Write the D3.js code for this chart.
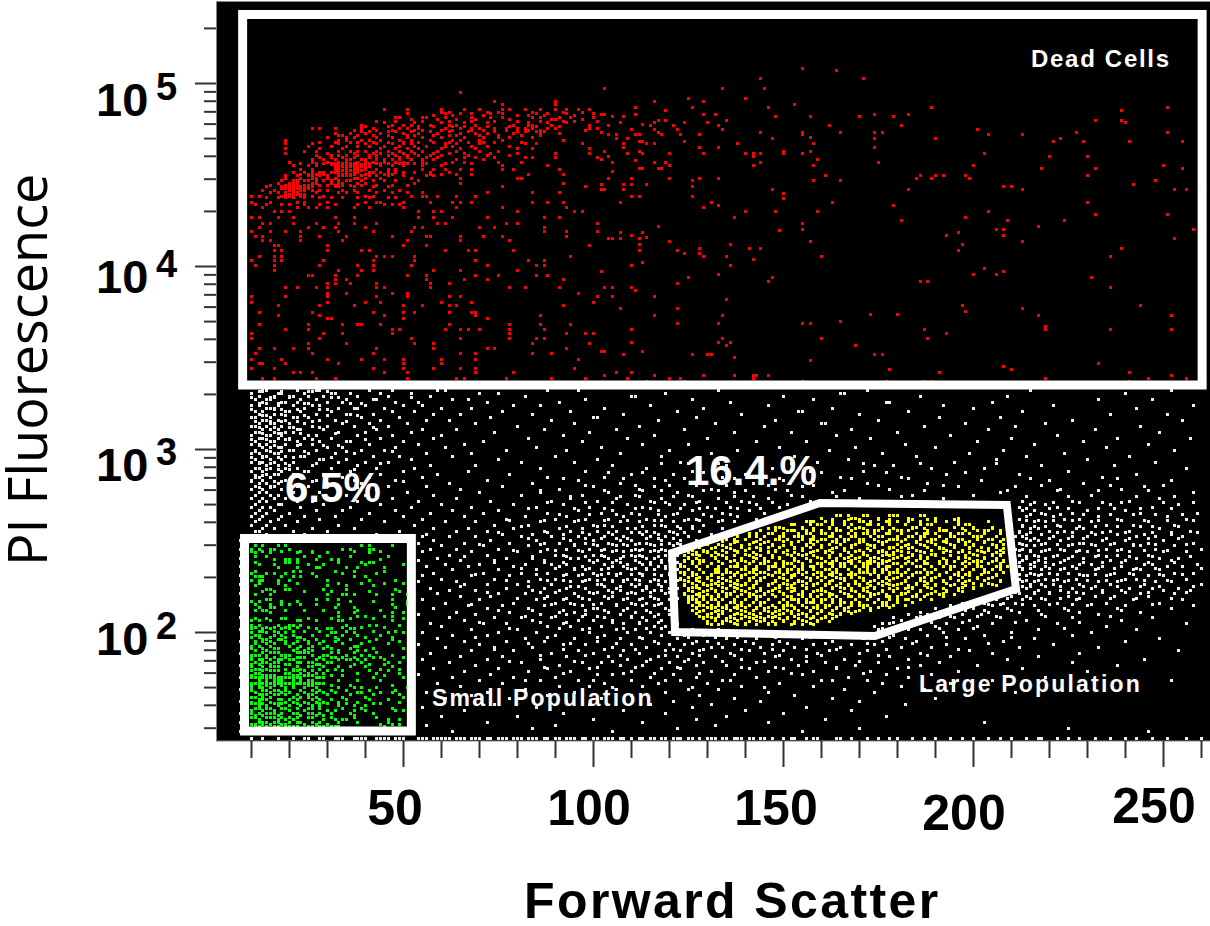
<!DOCTYPE html>
<html><head><meta charset="utf-8">
<style>html,body{margin:0;padding:0;background:#fff}svg{display:block}text{font-family:"Liberation Sans",Arial,sans-serif}</style>
<script src="https://cdn.jsdelivr.net/npm/d3@7"></script>
</head><body><svg id="c" width="1210" height="926"></svg>
<script>
// Every row: log10(PI fluorescence), then the forward-scatter channels seen at that height.
const deadRows=[
[5.08,155],[5.07,164],[5.03,171,144],[4.97,103,134,145],[4.95,65],[4.92,125,140],[4.90,74,90,116,129],[4.885,76,90,153],
[4.87,111,126,146,189,251],[4.86,45,51,60,66,70,76,78,82,86,90,93,96,99],[4.85,119,239],
[4.835,51,61,65,68,73,76,85,88,93,100],[4.83,102,103,111,129,132,174,183],[4.82,105,108,148,157,170,179],
[4.815,48,49,55,56,61,68,73,76,84,86,91,94,100],[4.80,117,119,135,232,239],[4.795,43,48,55,62,68,74,80,86,92,95,101],
[4.785,107,116,124,130,240],[4.775,113],[4.77,39,47,50,52,57,62,64,69,79,83,84,89,99,104,115,121,133,162,181],
[4.755,26,28,32,39,42,49,51,54,61,65,68,70,74,77,80,82,84,88,90,99,101],[4.75,110,116,122,134,201],
[4.735,39,41,46,48,52,57,62,67,74,80,82,85,87],[4.73,102,117,144,155,165,174,176,227,251],
[4.72,104,106,111,112,118,123,128,155,204,213],[4.715,33,34,38,42,46,51,53,58,62,64,70,75,81,86],[4.705,157],
[4.70,106,109,147,174,190,223],[4.69,19,33,35,39,41,44,49,52,57,63,65,70,76,92],[4.685,112,113,124,221,229,241,255],
[4.67,19,26,33,40,43,47,50,52,61,64,70,82,85,97,108,114,116,138,158],[4.65,108,128,133,174],
[4.645,19,28,34,44,48,51,54,60,65,69,80,84,99],[4.63,103,112,150,157],[4.62,109,113,120,129,140,142,144,150,155,203],
[4.615,19,30,37,42,44,47,50,53,58,62,66,73,80,90,99],[4.60,104,142,220,230],
[4.595,28,31,34,37,41,43,49,51,56,59,66,69,74,82,84,90,101],[4.585,159,102],[4.58,111],
[4.57,20,26,30,33,35,38,40,42,45,48,50,55,63,66,75,81,105,116,119,144,175],
[4.56,31,32,33,34,35,36,37,38,39,40],[4.55,21,25,27,32,34,36,37,39,41,44,47,50,55,60,76,88,120,142,158,200,250],
[4.545,32,33,34,35,36,37,38,39,40,41],[4.535,112,113,117,118,218,232,255],
[4.53,23,26,32,33,35,37,38,40,43,46,48,55,58,61,65,68,76,79,91],[4.525,33,34,35,36,37,38,39],[4.52,105],
[4.505,23,25,27,29,34,36,37,40,45,47,57,60,64,68,83,92],[4.50,161,186,190,192,198,230],
[4.48,19,23,26,27,30,32,37,38,40,44,52,65,80,81,104,110,120,128,133,185,189,199],
[4.47,126,158,165,248],[4.455,17,20,21,22,26,27,31,33,34,38,40,53,65,92],[4.45,102,108,110,114,242],
[4.435,14,18,20,23,26,32,33,37,42,46,76,98,126,208,210],[4.425,18,19,20,21,22,23,24,25],[4.42,102,103,108,147,183,213,253,256],
[4.405,15,17,19,21,22,27,33,35,38,43,47,51,55,72,84,91],[4.40,150],[4.395,19,20,21,22,23,24],
[4.385,110,112,126],[4.38,10,12,18,20,23,26,29,40,42,52,55,56,59,64,69],[4.37,150],
[4.35,10,15,22,24,30,40,43,44,50,57,63,65,68,84,88,92,107,131,163,230],[4.335,133,179],
[4.325,13,22,25,27,30,37,41,50,64,76,93],[4.32,129],[4.30,16,18,20,54,58,60,80,95,97,140,148,159,204],[4.285,232,251],
[4.27,10,12,17,21,32,37,54,58,63,72,87,91,137,198],[4.25,181,209,224],[4.235,13,15,21,27,33,37,43,59,61,77,80,101,155],
[4.22,117,217],[4.215,12,25,29,32,40,53,55,70,74,87],[4.20,155,206,208,258],[4.195,149],[4.19,10,15,19,23,33,42,52,87,93,101],
[4.185,107,113,196],[4.17,110,193,208],[4.165,11,13,23,28,35,47,56,57,65,71,76,93],[4.16,114],[4.155,104,105,107,112,253],
[4.14,13,15,23,34,51,65,78],[4.135,120,157,213],[4.12,112,136,197],[4.115,16,17,30,50,56,99],[4.10,128,141,144,239],
[4.09,16,18,30,39,41,61,67,69,79,112,122,196],[4.07,124,128],[4.055,12,16,18,43,45,47,53,94,129,135,160,236],[4.04,142],
[4.035,10,16,18,29,42,53,69,83,87],[4.02,113],[4.005,11,16,28,38,42,52,72,85,87,110,136],[3.99,203],[3.98,16,33,39,42,58,65,80],
[3.97,102,208],[3.955,133,200,206],[3.95,25,26,32,38,51,56,69,75,85,88],[3.94,125,147,231],[3.93,32,35,56,66,72,92],
[3.92,146,186,188],[3.905,30,32,36,43,57,62,122],[3.885,19,22,27,30,43,45,57,78,82,91,103,105,110,236],[3.87,111],
[3.85,30,35,47,51,96],[3.835,10,19,30,43,51,62,65,101,105,116],[3.82,135],[3.805,10,30,40,44,60,68,100],
[3.785,17,28,37,50,55,62,64,92,197,244],[3.77,107,122,213],[3.755,198],[3.75,12,26,42,50,53,62,68,69],[3.74,173,180],
[3.73,17,28,45,69,86,116,134,217,252],[3.715,30,31,50,72],[3.70,165],[3.69,122,133,155,157],[3.685,12,25,34,38,39,44,62,78,86,94],
[3.67,219],[3.655,19,25,47,49,61,65,67,70,78,87,110,187,219,236,252],[3.635,10,29,34,47,78,93,98,100,193],
[3.605,10,28,52,65,78,85,87,134,160,188],[3.585,110,133,136],[3.58,25,35,53,58,84,99],[3.57,135,169],
[3.55,12,16,21,25,43,58,72,74,93],[3.535,102,103,113],[3.525,11,26,42,65,69,84,89],[3.52,108,126,130,131,174,176],[3.505,137],
[3.49,10,18,30,39,45,50,60,69,96],[3.485,157],[3.47,12,13,19,33,50,60,233],[3.455,208],[3.44,10,16,42,50,58,65,69,95],[3.435,178,210],
[3.42,21,23,26,45,51,69,79,106,110,191,241],[3.405,103,116,129,137,142,143,146,252],[3.39,13,16,27,32,51,64,66,77,89,98,109,120,123,142,219,246,256],
[3.37,114,124,155,177,187,189,241],
[4.84,60,62,72,75,84,92,97],[4.825,58,63,71,80,83,87,95],[4.805,52,59,64,69,78,89,90,97],[4.785,45,53,60,66,72,83,88,93],
[4.765,40,46,54,58,63,66,72,78,85,91],[4.745,37,43,47,53,55,60,63,68,71,77,83,86,98],[4.725,32,36,40,44,50,54,59,65,69,72,79,86,91],
[4.705,30,35,37,43,47,51,55,60,66,71,75,78,84],[4.68,28,32,36,38,42,46,50,54,58,62,67,71,74,81],[4.655,25,31,35,38,41,45,49,53,56,61,63,68,72,78],
[4.63,24,27,33,36,38,40,43,46,49,52,55,59,64,70,75],[4.605,27,31,33,35,38,41,43,46,48,51,54,57,60,67,72,78],
[4.585,26,29,32,35,36,39,40,43,45,47,49,52,55,58,64,71],[4.565,23,27,29,31,32,34,36,37,41,43,44,46,49,51,53,56,61,68],
[4.515,21,24,26,28,29,31,32,33,35,37,38,41,42,44,46,48,50,53,57,62],[4.495,19,22,25,26,28,30,33,34,35,36,39,41,43,46,50,56,58],
[4.47,18,21,22,24,25,27,29,31,33,35,36,39,42,45,48,54],[4.445,15,19,21,22,24,25,28,30,32,34,36,39,43,47,51],
[4.415,13,16,20,21,23,24,26,28,30,34,37,41,45,49],[4.375,14,17,19,21,24,28,31,34,38,41,46,48],[4.34,11,14,18,20,24,28,32,38,45,47,49]
];
const smallGateRows=[
[2.475,11,13,17,19,39,41,47],[2.455,10,12,15,16,20,34,36,41,42],[2.435,11,15,22,26,30,41],[2.40,16,19,20,22,27,31,33,44],
[2.38,11,19,20,22,33,39,41,42],[2.355,17,22,27,28,35,38,45],[2.335,11,21,23,32,37,45],[2.305,11,12,13,18,21,23,27,37,40],
[2.285,10,12,13,17,20,30,41,48],[2.255,11,19,30,35,42],[2.235,14,15,19,20,29,35,48],[2.21,11,15,30,34,35,37,43,47,51],
[2.18,14,15,27,30,33,47],[2.155,11,15,18,20,23,27,33,47,51],[2.135,12,15,16,32,37,48],[2.11,15,33,37,47,50],[2.09,33,38,40,45,47],
[2.065,10,12,15,22,23,27,33,34,47],[2.04,10,12,17,20,21,23,35,41,43,49],[2.02,10,13,15,18,20,27,30,31,36,37],
[1.998,10,14,17,19,31,32,37,46,50],[1.975,10,12,15,19,22,23,32,40,47],[1.95,11,13,15,19,22,25,29,32,41,49],
[1.925,10,12,15,20,23,26,30,37,38],[1.90,11,14,21,24,26,33,38,40],[1.875,10,11,12,14,18,19,20,26,29,30,35,39,41,47],
[1.85,10,12,13,15,17,18,20,21,27,29,33,35,36,38,40,45],[1.825,10,12,15,19,20,27,28,37,41,45],[1.80,11,12,14,19,21,23,28,32,44,49],
[1.778,11,12,19,20,23,25,27,29,38,43,49],[1.755,10,11,12,13,14,15,16,17,18,19,20,21,22,23,27,28,29,42,50],
[1.722,10,11,12,13,14,15,16,17,18,19,20,21,22,23,24,25,26,27,28,29],[1.697,10,12,13,15,19,21,24,27,33,37,39,43,51],
[1.674,11,15,18,20,24,27,29,32,38,39,44,47],[1.647,10,11,13,15,21,23,25,27,34,40,50],[1.62,10,12,15,19,21,24,27,29,33,38,49],
[1.60,12,14,17,20,23,26,28,33,37,40],[1.573,10,13,16,20,24,30,32,37,40,48,50],[1.546,11,13,17,23,27,29,37],
[1.522,12,17,19,21,29,32,34,35,46,49],[1.497,10,11,13,15,18,19,24,27,30,44,47,49],
[2.445,10,13,18,23,26,37,44],[2.415,11,14,24,28,36,46],[2.37,12,16,25,29,40,50],[2.32,10,14,16,19,26,34,43],[2.27,12,17,22,33,39,45,50],
[2.225,13,16,24,31,41,49],[2.17,10,12,18,22,36,42,51],[2.12,11,13,14,19,24,29,38,44],[2.075,11,14,18,19,25,31,36,42,50],[2.03,11,14,16,19,22,25,34,39,45],
[2.008,12,13,16,21,24,28,35,42,48],[1.985,11,12,16,18,21,26,30,34,38,44],[1.962,13,14,17,18,24,27,33,36,43,47],[1.938,11,14,16,19,21,25,28,34,39,46],
[1.912,10,13,16,17,22,25,29,31,36,42,50],[1.888,13,15,16,17,22,23,24,25,31,33,37,43],[1.863,10,14,16,19,22,23,24,28,31,32,34,37,42,44,50],
[1.838,11,13,14,16,17,22,23,25,26,30,31,39,46,49],[1.812,10,13,15,16,17,22,25,26,29,33,36,40,47],[1.79,10,13,15,16,17,21,22,24,26,30,34,41,46],
[1.767,10,13,14,15,16,21,22,24,25,26,31,34,45],[1.74,12,14,16,17,18,21,23,25,26,33,38,44],[1.71,10,12,14,16,18,21,25,26,31,36,47],
[1.685,10,13,14,16,17,19,23,26,28,31,35,41,48],[1.66,12,13,14,16,17,19,22,25,26,30,36,42,49],[1.634,12,13,14,17,18,20,22,26,28,31,35,41,46],
[1.61,10,11,13,16,17,18,22,25,28,30,35,42,44],[1.586,11,12,14,15,18,19,22,25,26,28,34,39,47],[1.56,10,12,14,15,16,18,21,22,25,26,28,31,36,42],
[1.534,10,11,14,15,16,18,20,22,25,26,31,37,43],[1.51,12,13,14,16,17,20,22,23,26,28,33,38,46],[1.485,11,12,14,16,17,19,20,21,22,25,26,28,29,31,32,33,45]
];
const largeGateRows=[
[2.64,167,171,178,180,186],[2.62,163,167,170,175,178,184,188,195],[2.605,158,161,166,170,173,177,180,183,190,196],
[2.59,153,157,160,163,168,172,175,178,182,186,189,196,199],[2.57,146,150,155,158,162,164,169,171,176,179,184,187,191,197,200,205],
[2.555,148,152,156,160,165,168,172,175,180,183,188,193,198,201,204,207],[2.54,143,147,150,154,157,161,163,167,171,174,178,181,185,190,194,196,199,203,207],
[2.525,141,145,149,153,158,162,165,169,173,176,180,184,187,191,195,200,202,206],[2.51,137,140,144,148,151,155,157,160,164,167,170,174,178,182,186,189,193,197,201,204,208],
[2.495,134,138,143,146,150,154,159,163,166,171,175,177,181,185,188,192,196,199,203,207],[2.48,130,133,136,141,144,147,152,156,158,162,165,169,172,176,180,183,186,190,194,198,200,205,208],
[2.465,128,132,135,139,143,146,149,153,157,160,164,168,174,178,179,181,184,188,191,195,199,202,206],[2.45,126,129,134,137,140,144,148,151,155,159,162,166,170,173,176,180,185,189,193,197,201,204,207],
[2.435,125,127,130,132,135,138,142,146,150,153,157,161,163,167,171,175,177,179,183,187,192,196,199,203,206,208],[2.42,124,128,131,134,137,141,144,147,152,155,158,162,165,168,172,176,178,181,184,186,190,194,198,201,205,207],
[2.405,125,127,132,135,139,143,145,149,153,156,160,164,166,169,173,175,179,182,186,188,192,196,199,203,206],[2.39,124,126,129,133,136,140,142,146,150,154,157,161,163,167,170,172,174,177,183,187,191,195,198,200,202,205,208],
[2.375,126,128,131,134,138,141,145,148,151,155,159,162,165,168,171,173,176,180,184,188,193,197,199,201,204,207],[2.36,124,127,130,133,137,140,143,147,150,153,157,160,163,166,169,172,175,178,181,185,189,192,195,198,201,206,209],
[2.345,125,128,132,135,139,142,146,149,152,155,158,161,164,167,170,172,177,180,183,187,190,194,197,200,203,207],[2.33,123,126,129,133,136,138,141,144,148,151,154,156,160,163,168,171,174,176,179,182,186,189,193,196,199,204,208],
[2.315,124,127,131,134,137,140,143,146,150,153,155,158,162,165,167,169,173,178,181,184,188,191,195,198,202,206],[2.30,125,128,130,133,136,139,142,145,149,152,156,159,161,164,168,170,175,177,180,183,187,190,194,197,201,205],
[2.285,124,127,131,135,138,141,144,148,151,154,157,160,163,166,171,174,178,182,186,189,192,196,199,203,207],[2.27,126,129,132,134,137,140,143,147,150,153,156,159,162,165,169,172,175,177,181,185,188,193,197,200,204],
[2.255,124,127,130,133,136,139,142,146,149,152,155,158,161,164,167,170,173,176,179,183,187,190,194,198,202,206],[2.24,125,128,131,135,138,141,144,148,151,153,156,160,163,166,168,171,174,178,180,182,184,189,192,196,200],
[2.225,126,129,132,134,137,140,143,146,149,152,155,158,161,165,169,172,176,179,183,186,190,193,197],[2.21,124,127,130,133,136,139,142,145,147,150,154,157,160,163,167,170,174,177,181,185,188,191,195],
[2.195,125,128,131,135,138,141,144,148,152,155,159,162,164,168,171,173,178,180,184,187,192],[2.18,126,129,132,134,137,140,143,146,150,153,156,158,161,165,169,172,175,182,186,189],
[2.165,125,127,130,133,136,139,142,145,149,151,154,157,160,163,166,170,174,177,180,184],[2.15,126,128,131,135,138,141,144,147,150,152,155,159,162,165,168,172,176,179,182],
[2.135,127,130,132,134,137,140,143,146,148,153,156,158,161,164,167,171,175,178],[2.12,126,129,133,136,139,142,145,149,151,154,157,160,163,166,170,173],
[2.105,127,131,134,138,141,144,147,150,152,155,159,162,165,168],[2.09,128,130,133,136,140,143,146,148,153,156,158,161,164],
[2.075,129,132,135,137,139,142,145,149,151,154,157,160,163],[2.06,130,134,136,141,144,147,150,153,156,159,162],[2.045,131,133,138,140,143,146,148,152,155,158],
[2.64,164,165,172,179,180,187],[2.624,160,168,169,175,183,190,196],[2.607,156,157,163,171,177,178,186,193,204],[2.591,152,159,160,166,173,182,188,189,198],
[2.574,148,149,155,162,167,170,176,184,185,195,200,205],[2.558,144,151,153,158,164,165,174,178,181,191,192,203],[2.542,141,146,147,156,160,169,172,177,187,188,197,199,207],
[2.525,138,143,150,154,155,163,168,175,183,186,194,201,202],[2.509,133,135,140,148,149,158,161,166,171,179,180,190,196,205,208],[2.493,130,137,142,145,152,157,164,170,176,185,189,193,198,203],
[2.476,127,128,134,139,147,150,156,160,168,173,174,182,187,195,200,206],[2.46,125,131,136,141,144,153,155,163,166,172,178,183,191,192,199,204,208],[2.444,124,129,130,138,146,148,158,161,169,175,176,181,186,194,197,202],
[2.427,126,127,133,140,143,151,154,156,165,171,177,179,184,189,190,200,205,207],[2.411,125,132,135,142,147,149,159,162,167,170,174,180,183,188,196,198,203],[2.394,124,128,129,137,139,145,153,157,164,168,173,176,178,185,193,201,206,208],
[2.378,126,131,134,141,144,150,152,160,163,166,172,175,179,182,187,191,199,204],[2.362,123,127,130,136,138,146,148,155,158,165,169,171,177,181,186,194,195,202,207],[2.345,125,128,133,140,143,151,154,161,162,167,174,176,183,190,197,200,205],
[2.329,124,129,132,135,142,145,149,156,159,164,170,172,178,180,185,188,193,203,208],[2.313,126,131,137,139,147,152,153,160,163,168,175,181,184,191,196,199,206],[2.296,123,127,130,134,141,144,150,157,165,166,171,177,179,186,189,194,201,204],
[2.28,125,128,133,136,143,148,154,155,162,169,173,176,182,187,192,198,207],[2.264,124,129,131,138,140,146,151,158,161,167,170,178,180,185,190,195,202,205],[2.247,126,127,134,137,142,149,152,156,163,165,172,174,183,184,188,197,200],
[2.231,125,130,132,139,144,147,153,159,160,168,171,176,179,186,193,196],[2.215,124,128,135,136,141,145,150,155,162,166,173,175,181,182,189,192],[2.198,126,129,133,138,143,148,151,157,164,167,170,177,185,187],
[2.182,125,127,131,134,140,146,152,154,160,163,169,172,178,180,183],[2.166,128,130,136,137,142,144,149,156,158,165,168,174,176],[2.149,126,129,133,139,141,147,151,155,161,162,170,171,177],
[2.133,127,131,135,138,143,145,150,153,159,164,166,173],[2.117,128,132,134,140,146,148,152,157,160,167,169],[2.10,130,133,137,139,142,149,154,156,163,165],
[2.084,129,131,136,141,144,147,151,158,161],[2.068,132,135,138,143,145,150,155,159],[2.051,130,134,137,140,146,148,153,157]
];
const otherRows=[
[3.34,11,15,19,20,26,33,37,39,51,64,78,104,141,197,228],[3.324,13,14,22,27,28,41,47,59,61,88,96,133,172,215,252],[3.307,10,17,18,24,31,32,36,44,52,70,75,119,165,166,240],
[3.291,12,16,20,21,25,29,38,46,57,82,110,111,150,186,209],[3.275,11,14,15,23,27,35,42,43,63,67,98,126,158,233,247],[3.258,13,18,19,22,30,34,48,54,72,91,136,177,178,205],
[3.242,10,12,17,21,26,28,40,50,55,79,86,115,146,192,221,258],[3.226,14,15,16,24,33,37,38,45,60,68,103,129,163,200,243],[3.209,11,13,19,20,23,31,47,53,76,94,122,154,155,183,213],
[3.193,12,16,18,27,35,36,42,58,65,84,108,139,170,236,251],[3.176,10,11,15,21,22,25,39,49,73,100,101,127,191,207],[3.16,13,14,17,19,28,32,44,56,62,89,117,148,175,226,255],
[3.144,12,15,16,20,24,34,41,51,69,95,132,160,161,198,219],[3.127,10,11,14,18,26,30,37,46,80,112,145,187,211,244],[3.111,13,15,17,22,23,29,43,55,64,87,106,124,168,204,232],
[3.095,11,12,16,19,21,33,40,52,74,99,137,152,180,249],[3.078,10,14,15,18,25,27,38,47,60,92,116,164,194,222],[3.062,12,13,17,20,24,31,44,58,83,109,130,173,210,238,257],
[3.045,11,15,16,22,28,35,36,50,71,97,143,156,201,229],[3.029,10,12,14,19,23,26,41,54,66,113,125,182,216,246],[3.013,13,15,17,18,30,34,48,61,85,102,149,169,190,235],
[2.996,11,14,20,21,27,39,45,77,93,120,138,162,208,253],[2.98,10,12,16,17,25,32,37,56,68,107,131,176,199,224],[2.964,13,14,19,23,24,42,49,63,90,118,153,185,214,241],
[2.947,11,15,18,28,29,35,52,75,101,128,144,167,206,230],[2.931,10,12,13,16,21,33,40,46,81,95,123,159,195,248],[2.914,14,17,20,26,38,57,69,105,135,174,179,218,237],
[2.898,11,12,15,19,22,31,43,53,86,114,147,189,203,256],[2.882,10,13,18,24,25,36,50,67,98,126,157,171,225],[2.865,14,16,17,21,29,44,59,78,110,121,140,193,212,243],
[2.849,11,12,15,23,34,41,55,88,103,134,165,181,234],[2.833,10,13,19,20,27,37,48,72,96,119,150,202,220,252],[2.816,12,14,17,30,39,62,84,107,127,142,172,188,229],
[2.8,11,15,16,22,25,46,56,76,100,116,155,196,211,245],[2.784,10,13,18,33,43,65,91,112,131,148,178,223,239],[2.767,12,14,20,21,28,51,70,86,104,122,137,163,207,258],
[2.751,11,15,17,24,35,40,58,81,97,111,125,152,184,200,231],[2.734,10,13,16,19,31,47,64,94,106,118,133,146,170,192,249],[2.718,12,14,22,26,38,54,73,89,101,115,128,139,157,213,226,241],
[2.702,11,17,18,29,44,60,79,92,109,120,124,143,151,215,219,236,254],[2.685,10,13,15,23,36,52,68,85,99,113,130,136,149,212,222,247],[2.669,12,16,27,34,48,63,75,96,105,117,126,141,213,216,230,240],
[2.653,11,14,20,41,57,71,88,102,110,122,134,145,218,226,244,259],[2.636,10,13,18,24,32,50,66,82,93,108,119,131,138,214,221,233,251],[2.62,12,17,28,39,55,77,90,98,104,114,125,127,143,212,224,228,238,256],
[2.604,11,15,22,45,61,69,86,95,107,112,121,133,137,216,219,231,246],[2.587,10,14,19,33,53,74,83,100,103,116,118,129,213,222,235,242,253],[2.571,13,16,26,37,58,67,79,91,97,109,111,123,126,134,215,217,227,229,249],
[2.554,11,12,21,30,49,64,72,87,94,101,106,114,120,128,212,220,224,236,241,257],[2.538,14,24,43,56,76,84,92,99,105,113,117,122,131,214,218,232,238,245,252],
[2.522,55,62,69,81,89,96,103,108,115,119,125,211,213,221,226,230,243,248,255],[2.505,7,58,73,85,94,100,107,110,118,123,127,215,217,223,234,240,250],[2.489,54,66,78,87,91,98,104,112,114,120,122,212,219,228,229,237,246,258],
[2.473,60,71,83,95,101,106,109,116,121,214,216,225,232,242,244,253],[2.456,7,57,64,75,88,93,99,103,111,113,118,123,211,213,220,223,235,239,248,260],[2.44,55,68,80,86,97,105,108,115,117,120,215,218,227,230,241,250,256],
[2.423,62,72,90,92,100,102,110,112,119,122,212,216,222,233,238,246],[2.407,7,59,77,84,94,96,104,107,114,116,121,214,219,225,229,243,249,254],[2.391,54,65,74,87,99,101,106,111,118,120,211,213,217,224,236,240,252],
[2.374,61,70,82,89,93,103,109,113,115,123,215,221,228,231,245,247,259],[2.358,7,56,67,79,91,97,105,108,117,119,212,216,219,226,234,239,251,255],[2.342,63,75,85,95,98,102,110,114,116,122,213,218,223,232,242,244,249],
[2.325,58,71,81,88,100,104,107,112,120,121,211,215,220,225,237,241,253,258],[2.309,7,55,68,78,92,96,101,106,113,118,214,217,229,230,235,246,250],[2.292,60,74,86,90,99,103,109,111,116,123,212,219,222,227,240,243,256],
[2.276,54,64,83,94,97,105,108,115,119,121,213,216,224,233,238,248,252],[2.26,7,66,72,80,89,101,102,110,112,117,215,218,221,228,236,245,260],[2.243,57,77,87,93,98,106,114,120,122,211,214,226,231,241,247,254],
[2.227,62,69,84,91,104,107,113,116,118,209,217,223,234,239,250,257],[2.211,7,59,75,82,95,100,109,111,119,207,212,216,220,229,244,253],[2.194,65,73,88,96,103,105,115,121,204,210,214,225,232,237,246],
[2.178,55,70,85,92,99,108,112,117,120,201,206,213,219,227,242,255],[2.161,61,79,90,94,102,110,114,118,197,203,208,211,222,235,249],[2.145,7,67,76,87,97,106,113,116,194,199,205,216,230,240,258],
[2.129,58,72,83,100,101,109,119,121,190,196,200,209,224,238,252],[2.112,64,78,91,95,104,111,115,186,192,193,204,212,228,244],[2.096,54,69,86,93,98,107,117,120,183,188,197,202,218,233],
[2.08,7,62,74,81,89,103,110,113,179,185,191,195,207,226,247],[2.063,66,84,96,100,105,114,118,181,187,199,214,239],[2.047,57,71,77,92,108,112,122,176,178,184,193,205,222,256],
[2.031,60,88,94,102,116,119,174,180,190,201,235],[2.014,7,68,80,97,106,111,121,126,133,175,183,186,196,217,243],[1.998,55,75,85,99,109,115,120,137,141,177,192,210,231],
[1.981,63,72,90,103,118,124,129,146,152,160,167,179,188,203,226],[1.965,59,82,95,107,113,122,135,143,155,171,182,198,216,249],[1.949,7,66,77,87,101,116,127,130,140,149,163,176,185,208,240],
[1.932,54,70,92,98,110,120,124,137,147,158,168,174,193,221],[1.916,61,74,84,105,114,131,134,144,153,165,181,189,212,233],[1.9,68,79,96,108,119,123,128,141,150,162,172,199,254],
[1.883,7,57,89,100,112,126,136,145,159,170,186,205,228],[1.867,65,76,93,104,117,122,132,148,156,178,194,217],[1.85,55,72,86,109,115,125,139,152,166,183,209,245],
[1.834,62,81,97,102,120,129,143,161,175,191,226],[1.818,7,69,91,107,113,127,135,154,169,186,201,238],[1.801,58,75,88,99,118,123,141,150,164,180,213],
[1.785,66,83,94,110,131,146,158,173,196,230],[1.769,54,73,101,105,121,137,155,177,189],[1.752,7,63,79,90,115,127,143,167,183,219],
[1.736,70,86,96,110,123,134,160,172,205,252],[1.72,59,76,103,117,130,149,176,194],[1.703,65,91,99,113,139,158,181],[1.687,7,82,106,125,133,166,187],
[1.67,56,72,95,119,146,174,211],[1.654,68,88,110,128,153],[1.638,61,78,102,137,163,190],[1.621,7,93,121,144,170],[1.605,74,99,115,131,182],
[1.589,55,85,126,156],[1.572,66,108,140,168],[1.556,7,92,119,150],[1.54,60,80,135,177],[1.523,100,127,161],[1.507,7,72,113,146,203],[1.49,56,90,132],
[1.474,84,122,170,225],[1.458,7,63,105,155,246],
[3.315,12,13,18,25,26,30],[3.283,10,15,16,20,31,33,52],[3.25,12,14,17,24,25,36,39],[3.218,10,16,18,22,28,30],[3.185,13,14,19,24,30,38],[3.152,11,15,18,22,26,35],
[3.12,12,16,20,21,28,42],[3.087,13,17,18,23,32],[3.053,10,14,19,20,26,40],[3.02,12,16,22,29,33],[2.988,11,15,18,24,35,47],[2.955,10,13,17,21,31],
[2.922,12,15,19,27,44,118,125,133,152,171,186,206],[2.89,14,17,20,37],[2.858,11,13,22,29],[2.875,104,113,129,141,160,177,198],[2.84,92,108,116,124,137,149,168,183,215,238],
[2.825,10,16,18,26,50],[2.805,98,111,120,127,135,146,158,175,192,218,236,250],[2.79,12,15,20,38],[2.775,86,103,113,118,129,133,140,151,166,187,209,222,233,246],
[2.742,94,107,112,121,126,137,142,155,164,181,214,225,243,253],[2.71,88,98,105,116,119,127,135,141,147,216,221,228,234,239,250,258],[2.678,83,95,103,111,115,123,128,132,138,144,214,220,225,233,237,244,252],
[2.645,91,99,106,112,117,121,129,136,215,219,223,229,236,242,248,255],[2.612,78,87,96,103,109,116,118,124,128,134,214,217,221,226,233,239,245,251,258],[2.58,81,93,101,105,113,119,122,126,213,216,219,223,228,232,238,244,247,254],
[2.548,75,88,97,104,110,112,116,121,124,212,215,222,226,231,234,240,247,252,259],[2.515,83,92,98,102,106,109,114,117,121,214,216,220,225,229,235,241,246,254],[2.482,70,86,95,100,105,108,111,115,118,123,213,218,222,226,231,236,242,248,256],
[2.448,79,90,96,102,106,110,112,116,119,212,215,219,224,228,233,238,245,251],[2.415,66,84,93,98,103,108,111,113,117,121,214,217,221,226,232,235,241,247,257],[2.382,74,87,92,100,105,107,112,115,118,122,212,216,219,223,229,234,239,246,253],
[2.35,81,90,95,99,104,109,111,114,119,121,213,215,220,224,227,233,237,243,248,260],[2.317,69,85,93,97,102,106,110,113,116,120,212,216,218,222,228,232,236,242,249,255],[2.284,77,88,92,98,101,105,108,112,117,122,214,217,221,225,230,235,239,245,251],
[2.25,65,83,94,96,103,107,111,114,118,213,215,219,223,229,232,238,244,249,258],[2.218,72,86,90,99,101,105,110,115,120,211,216,220,225,227,234,240,246,256],[2.185,80,87,93,97,104,109,113,116,122,205,209,215,218,223,228,236,243,252],
[2.152,68,89,95,100,106,111,117,200,204,207,213,220,226,231,247],[2.12,75,84,92,98,103,108,114,120,195,198,203,210,217,225,239],[2.088,82,90,97,101,110,116,121,186,190,194,201,206,219,236],
[2.055,70,86,93,105,112,117,179,183,189,197,211,228],[2.022,78,91,99,108,114,118,176,181,191,200,224],[1.973,69,88,101,112,125,132,138,148,157,170,178,193,210],
[1.94,83,94,106,117,126,133,142,151,161,172,184,204],[1.908,74,92,103,111,121,129,139,147,156,164,177,196],[1.875,86,98,107,119,128,137,149,160,175,188],
[1.842,78,95,105,114,124,134,145,156,170],[1.81,87,101,111,122,139,148,164,183],[1.776,92,108,116,128,152,171],[1.74,82,100,119,136,163],[1.70,105,126,145],
[1.42,10,13,17,21,24,25,28,29,32,33,34,37,38,39,40,43,44,45,46,48,49,50,54,55,56,58,59,60,61,62,64,65,66,68,69,70,72,73,75,76,77,79,80,81,83,84,85,87,88,90,91,93,94,95,97,98,100,101,103,104,105,107,108,110,112,113,115,116,118,119,121,122,123,125,126,128,130,131,132,134,135,137,138,139,141,142,144,145,147,150,152,153,156,158,159,164,165,168,172,175,178,180,184,187,190,194,197,200,204,207,210,214,217,218,222,225,228,232,236,240,243,247,251,256,260]
];
const deadGate=[[7.8,5.374],[260.3,5.374],[260.3,3.35],[7.8,3.35]];
const smallGate=[[8.3,2.511],[52.2,2.511],[52.2,1.459],[8.3,1.459]];
const largeGate=[[120.8,2.432],[159.7,2.705],[208.9,2.694],[211.3,2.235],[174.2,1.978],[121.6,2.0]];
const xMajorTicks=[50,100,150,200,250];
const xMinorTicks=[10,20,30,40,60,70,80,90,110,120,130,140,160,170,180,190,210,220,230,240,260];
const yMajorTicks=[100,1000,10000,100000];
const yMinorTicks=[30,40,50,60,70,80,90,200,300,400,500,600,700,800,900,2000,3000,4000,5000,6000,7000,8000,9000,20000,30000,40000,50000,60000,70000,80000,90000,200000];
const yExponents=[2,3,4,5];
const yLabelShift=[23,32,27,33];
const xLabelCentre=[-8,-4,-7,-9,-9];
const xLabelBase=[825,825,825,830,823];

const svg=d3.select("#c");
const x=d3.scaleLinear().domain([50,250]).range([403,1163]);
const y=d3.scaleLog().domain([100,100000]).range([632,83]);
const flat=rows=>rows.flatMap(([v,...xs])=>xs.map(c=>({c,v:Math.pow(10,v)})));

svg.append("rect").attr("x",216.5).attr("y",1.5).attr("width",1000).attr("height",739.5)
  .attr("fill","#000").attr("stroke","#888").attr("stroke-width",1);

function dots(rows,color){
  svg.append("g").attr("shape-rendering","crispEdges").selectAll("rect").data(flat(rows)).join("rect")
    .attr("x",d=>Math.round(x(d.c))-1).attr("y",d=>Math.round(y(d.v))-1).attr("width",3).attr("height",3).attr("fill",color);
}
dots(otherRows,"#eeeeee");
dots(smallGateRows,"#00ff00");
dots(largeGateRows,"#ffff00");
dots(deadRows,"#ff0000");

const line=d3.line().x(d=>x(d[0])).y(d=>y(Math.pow(10,d[1])));
[[deadGate,9],[smallGate,9],[largeGate,8]].forEach(([g,w])=>{
  svg.append("path").attr("d",line(g)+"Z").attr("fill","none").attr("stroke","#fff")
    .attr("stroke-width",w).attr("stroke-linejoin","miter");
});

function axis(gen,tr){
  const g=svg.append("g").attr("transform",tr).call(gen);
  g.select(".domain").remove();
  g.selectAll("line").attr("stroke","#333").attr("stroke-width",2);
  g.selectAll("text").remove();
}
axis(d3.axisBottom(x).tickValues(xMinorTicks).tickSize(17),"translate(0,741)");
axis(d3.axisBottom(x).tickValues(xMajorTicks).tickSize(26),"translate(0,741)");
axis(d3.axisLeft(y).tickValues(yMinorTicks).tickSize(12),"translate(216,0)");
axis(d3.axisLeft(y).tickValues(yMajorTicks).tickSize(21),"translate(216,0)");

const label=(s,px,py,size,weight,fill,spacing)=>{
  const t=svg.append("text").attr("x",px).attr("y",py).text(s).attr("font-size",size)
    .attr("font-weight",weight).attr("fill",fill);
  if(spacing)t.attr("letter-spacing",spacing);
  return t;
};
xMajorTicks.forEach((d,i)=>{
  label(String(d),x(d)+xLabelCentre[i],xLabelBase[i],50,700,"#000").attr("text-anchor","middle");
});
yMajorTicks.forEach((d,i)=>{
  label("10",96,y(d)+yLabelShift[i],47,700,"#000");
  label(String(yExponents[i]),156,y(d)+yLabelShift[i]-16,38,700,"#000");
});
label("Forward Scatter",524,918,50,700,"#000",2.4);
svg.append("text").attr("transform","translate(47,566) rotate(-90)").text("PI Fluorescence")
  .style("font-family","'Open Sans'").attr("font-size",54).attr("fill","#000");
label("Dead Cells",1031,67,24,700,"#fff",1.7);
label("Small Population",432,706,23,700,"#fff",2.2);
label("Large Population",919,692,23,700,"#fff",2.2);
label("6.5%",285,502,42,700,"#fff");
label("16.4.%",686,485,42,700,"#fff");
</script></body></html>
